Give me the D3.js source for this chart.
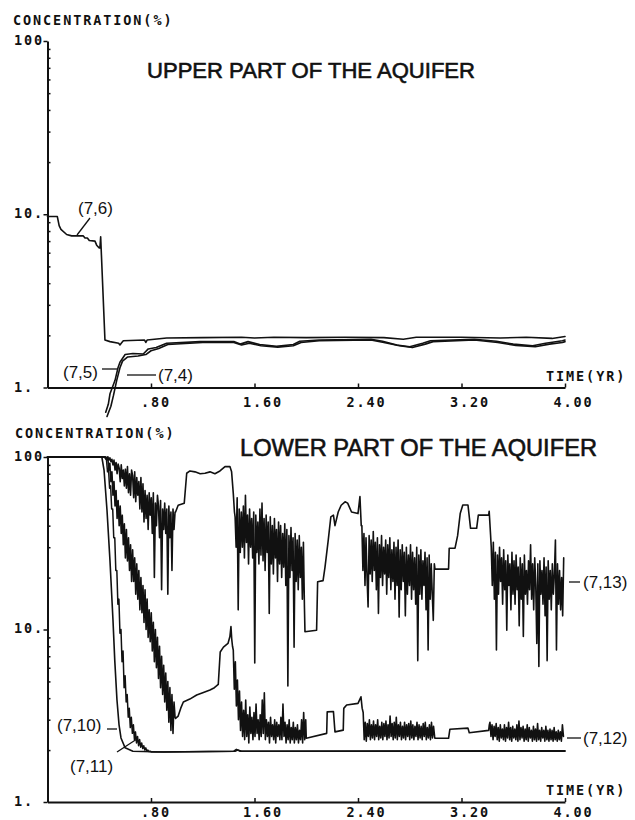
<!DOCTYPE html>
<html>
<head>
<meta charset="utf-8">
<script src="https://cdn.jsdelivr.net/npm/d3@7"></script>
<style>
  body { margin: 0; background: #fff; }
  svg { display: block; }
  .plot { font-family: "DejaVu Sans Mono", monospace; font-weight: bold; font-size: 13.5px; letter-spacing: 1.9px; fill: #111; }
  .title { font-family: "Liberation Sans", Arial, sans-serif; fill: #111; stroke: #111; stroke-width: 0.6; }
  .tag { font-family: "Liberation Sans", Arial, sans-serif; font-size: 17px; fill: #111; }
  .axis .domain { stroke: #111; stroke-width: 2; }
  .axis .tick line { stroke: #111; stroke-width: 1.5; }
  .curve { fill: none; stroke: #111; stroke-linejoin: round; stroke-linecap: round; }
</style>
</head>
<body>
<svg id="chart" width="635" height="820"></svg>
<script>
// ---- axes ----
const yearTicks = [0.8, 1.6, 2.4, 3.2, 4.0];
const yearTickLabels = [".80", "1.60", "2.40", "3.20", "4.00"];
const concTicks = [1, 10, 100];
const concTickLabels = ["1.", "10.", "100"];
const concMinorTicks = [2, 3, 4, 5, 6, 7, 8, 9, 20, 30, 40, 50, 60, 70, 80, 90];

// sampling interval (yr) of the digitised fluctuating stretches
const STEP = 0.008;

// ---- upper part of the aquifer: [time (yr), concentration (%)] ----
const upper76 = [[0,9.7],[0.076,9.7],[0.09,8.6],[0.104,8.17],[0.148,7.64],[0.187,7.5],[0.277,7.5],[0.29,7.3],[0.308,7.3],[0.323,7.06],[0.367,7.0],[0.38,6.63],[0.398,6.4],[0.405,6.4],[0.411,7.4],[0.444,1.88],[0.483,1.84],[0.55,1.8],[0.56,1.76],[0.57,1.8],[0.586,1.86],[0.75,1.88],[0.76,1.82],[0.77,1.88],[0.921,1.93],[1.2,1.94],[1.5,1.95],[1.6,1.93],[1.75,1.95],[2.0,1.94],[2.3,1.95],[2.6,1.94],[2.75,1.9],[2.85,1.95],[3.2,1.95],[3.5,1.93],[3.7,1.95],[3.9,1.92],[4.0,1.97]];
const upper75 = [[0.45,0.72],[0.47,0.8],[0.483,0.92],[0.522,1.1],[0.545,1.3],[0.56,1.4],[0.6,1.55],[0.66,1.57],[0.74,1.56],[0.779,1.67],[0.84,1.7],[0.921,1.8],[1.18,1.84],[1.44,1.84],[1.49,1.78],[1.55,1.84],[1.64,1.77],[1.77,1.73],[1.9,1.77],[1.95,1.85],[2.1,1.88],[2.5,1.9],[2.59,1.85],[2.7,1.76],[2.8,1.72],[2.9,1.8],[2.96,1.86],[3.3,1.9],[3.47,1.85],[3.6,1.78],[3.75,1.74],[3.85,1.8],[3.98,1.86],[4.0,1.88]];
const upper74 = [[0.46,0.68],[0.49,0.78],[0.51,0.9],[0.535,1.1],[0.56,1.3],[0.58,1.42],[0.62,1.5],[0.7,1.52],[0.76,1.55],[0.8,1.63],[0.86,1.68],[0.93,1.77],[1.2,1.82],[1.44,1.82],[1.5,1.76],[1.56,1.8],[1.65,1.74],[1.78,1.71],[1.9,1.74],[1.96,1.82],[2.1,1.86],[2.5,1.88],[2.6,1.82],[2.72,1.74],[2.82,1.7],[2.92,1.78],[2.98,1.84],[3.3,1.88],[3.48,1.82],[3.62,1.75],[3.77,1.72],[3.88,1.78],[3.98,1.82],[4.0,1.84]];

// ---- lower part of the aquifer ----
const lower710 = [[0,100],[0.42,100],[0.437,84],[0.46,49],[0.483,25],[0.506,11.4],[0.52,6.6],[0.537,3.9],[0.553,2.8],[0.568,2.35],[0.6,2.06],[0.66,1.97],[0.9,1.95],[1.45,1.97],[1.47,2.0],[1.5,1.97],[4.0,1.98]];

const lower711Head = [[0,100],[0.43,100]];
const lower711Drop = [100,98,96,82,84,66,68,50,50,34,34,22,22,14,15,9.5,10,6.5,7.5,4.6,5.4,3.8,4.2,3.1,3.5,2.7,3.1,2.5,2.8,2.3,2.55,2.2,2.4,2.12,2.3,2.08,2.2,2.04,2.12,2.0,2.06,1.97,2.0,1.96,1.97,1.95];
const lower711Tail = [[0.85,1.95],[1.44,1.97],[1.46,2.02],[1.49,1.97],[4.0,1.97]];

const lower712Head = [[0,100],[0.44,100]];
const lower712Noise1 = [100,96,100,84,92,72,82,60,72,52,64,44,56,40,52,36,46,31,41,26,38,25,34,22,31,19,29,19,26,16,24,15,22,13,20,12.5,18,11,17,10,15,9,13,8.5,12.5,7.5,11,6.5,10,6,9,5.2,8,4.6,7,4.2,6.2,3.8,5.6,3.4,5,2.9,4.6,2.6,4.2,2.5,3.8,3.1];
const lower712Flat1 = [[0.99,3.05],[1.01,3.15],[1.03,3.5],[1.05,3.8],[1.10,3.95],[1.153,4.17],[1.20,4.3],[1.256,4.46],[1.29,4.6],[1.32,4.8],[1.335,7.4],[1.36,7.9],[1.395,8.3],[1.41,9.1],[1.418,10.4],[1.424,8.8],[1.43,8.0]];
const lower712Noise2 = [7.6,4.5,6.5,3.6,5.1,3.0,4.4,2.6,3.8,2.4,3.4,2.3,3.9,2.4,3.2,2.2,3.55,2.5,3.1,2.3,3.3,2.4,3.7,2.5,3.0,2.3,3.2,2.4,3.9,2.5,4.3,2.3,3.0,2.4,2.9,2.2,3.1,2.4,2.8,2.3,3.0,2.2,2.9,2.4,2.8,2.3,3.1,2.3,3.7,2.4,2.9,2.2,2.8,2.3,3.0,2.2,2.7,2.3,2.9,2.2,2.7,2.3,2.8,2.2,2.6,2.3,3.0,2.2,3.3,2.3,3.0];
const lower712Flat2 = [[2.0,2.34],[2.158,2.5],[2.162,3.33],[2.21,3.35],[2.222,2.55],[2.286,2.61],[2.29,3.49],[2.312,3.65],[2.40,3.73],[2.423,4.07],[2.432,3.5]];
const lower712Noise3 = [3.3,2.3,2.9,2.25,2.85,2.4,3.0,2.3,2.8,2.35,2.95,2.3,2.8,2.4,3.0,2.3,2.75,2.35,2.9,2.3,2.85,2.4,2.95,2.3,2.8,2.35,3.15,2.4,2.85,2.3,2.9,2.35,3.1,2.3,2.8,2.4,2.9,2.3,2.75,2.35,2.9,2.3,2.8,2.4,2.85,2.3,2.95,2.35,2.8,2.3,2.75,2.4,2.9,2.3,2.8,2.35,2.75,2.3,2.85,2.4,2.9,2.3,2.7,2.35,2.8,2.3,2.9,2.35,2.75,2.4];
const lower712Flat3 = [[2.995,2.34],[3.10,2.34],[3.11,2.64],[3.25,2.68],[3.26,2.52],[3.41,2.6],[3.415,2.8]];
const lower712Noise4 = [2.9,2.4,2.8,2.3,2.75,2.4,2.85,2.3,2.7,2.25,2.8,2.35,2.65,2.3,2.8,2.25,2.7,2.35,2.9,2.3,2.7,2.25,2.75,2.35,2.65,2.3,2.8,2.25,2.95,2.3,2.7,2.35,2.75,2.25,2.65,2.3,2.8,2.25,2.7,2.35,2.6,2.25,2.75,2.3,2.65,2.25,2.85,2.3,2.6,2.25,2.7,2.35,2.6,2.25,2.75,2.3,2.6,2.25,2.65,2.3,2.6,2.25,2.7,2.3,2.55,2.25,2.6,2.3,2.55,2.25,2.8,2.4];

const lower713Head = [[0,100],[0.44,100]];
const lower713Noise1 = [100,98,100,96,99,94,97,90,96,84,93,80,91,86,72,90,75,84,68,85,66,88,62,80,60,84,78,58,82,55,76,60,72,50,76,48,70,42,64,44,60,38,62,46,58,36,62,20,54,40,60,52,34,56,17,50,38,54,36,50,16,52,34,48,22,50,38,48];
const lower713Flat1 = [[0.99,48],[1.01,52.5],[1.057,54],[1.076,80.5],[1.101,83],[1.14,82],[1.18,80],[1.217,80.5],[1.256,82],[1.294,80],[1.333,83],[1.372,88],[1.41,88],[1.423,82],[1.436,61.5],[1.445,48]];
const lower713Noise2 = [45,30,58,13,50,28,48,30,52,26,60,32,46,24,50,30,44,26,48,6.4,46,28,42,24,50,27,54,25,44,22,46,28,42,12.4,45,24,40,21,44,26,38,19,42,24,40,20,36,23,41,18,38,4.7,35,20,39,22,34,7.9,36,19,33,17,35,20,30,15,32,13.5];
const lower713Flat2 = [[1.99,9.7],[2.08,9.9],[2.088,18.9],[2.13,19.2],[2.145,23],[2.17,33],[2.19,45],[2.21,46],[2.222,40],[2.247,48],[2.27,52.5],[2.30,55],[2.32,54],[2.35,48],[2.40,47],[2.415,59],[2.425,40]];
const lower713Noise3 = [40,22,36,18,34,20,13.5,35,21,33,19,37,22,32,17,34,12.4,31,20,35,18,30,21,33,16,31,20,34,17,29,19,32,15,30,18,33,11.8,29,17,31,19,28,12,30,16,27,18,31,15,28,17,26,14,30,6.6,27,16,29,15,25,18,28,13,26,7.6,27,15,24,16,11.3,24];
const lower713Flat3 = [[2.995,22.4],[3.10,22.4],[3.105,29.6],[3.15,29.6],[3.17,35],[3.19,47],[3.21,52.7],[3.25,52.7],[3.27,38.6],[3.317,38.6],[3.33,46],[3.41,46],[3.414,48.5],[3.425,35]];
const lower713Noise4 = [30,18,32,15,28,7.6,27,16,30,19,26,14,29,17,25,9.9,27,18,24,13,28,16,25,14,27,17,23,10.5,26,15,24,9.1,27,16,22,14,25,17,31,15,24,13,26,18,8.3,24,6.1,25,16,22,14,26,12,23,6.6,25,15,22,13,24,16,21,33,7.6,24,14,22,13,20,12,26];

// ---- build series ----
const sampled = (t0, values) => values.map((v, i) => [t0 + i * STEP, v]);

const upperSeries = [upper76, upper75, upper74];
const lowerSeries = [
  [].concat(lower713Head, sampled(0.45, lower713Noise1), lower713Flat1, sampled(1.45, lower713Noise2), lower713Flat2, sampled(2.43, lower713Noise3), lower713Flat3, sampled(3.43, lower713Noise4)),
  [].concat(lower712Head, sampled(0.45, lower712Noise1), lower712Flat1, sampled(1.436, lower712Noise2), lower712Flat2, sampled(2.44, lower712Noise3), lower712Flat3, sampled(3.42, lower712Noise4)),
  [].concat(lower711Head, sampled(0.44, lower711Drop), lower711Tail),
  lower710
];

// ---- drawing ----
const svg = d3.select("#chart");
const x = d3.scaleLinear().domain([0, 4]).range([47.5, 565]);
const yUpper = d3.scaleLog().domain([1, 100]).range([387.5, 41]);
const yLower = d3.scaleLog().domain([1, 100]).range([802, 457]);

function drawAxes(y, opts) {
  const bottom = y(1);
  svg.append("g").attr("class", "axis")
    .attr("transform", `translate(0,${bottom})`)
    .call(d3.axisBottom(x).tickValues(yearTicks).tickSizeInner(-4).tickSizeOuter(0).tickFormat(""));
  svg.append("g").attr("class", "axis")
    .attr("transform", `translate(${x(0)},0)`)
    .call(d3.axisLeft(y).tickValues(concTicks).tickSizeInner(4).tickSizeOuter(0).tickFormat(""));
  svg.append("g").attr("class", "axis")
    .attr("transform", `translate(${x(0)},0)`)
    .call(d3.axisRight(y).tickValues(concMinorTicks).tickSize(3).tickFormat(""))
    .call(g => g.select(".domain").remove());

  // time labels
  svg.append("g").selectAll("text").data(yearTicks).join("text")
    .attr("class", "plot")
    .attr("x", (d, i) => x(d) - 10 - (yearTickLabels[i].length > 3 ? 1.5 : 0))
    .attr("y", opts.xLabelBase)
    .text((d, i) => yearTickLabels[i]);
  // concentration labels
  svg.append("g").selectAll("text").data(concTicks).join("text")
    .attr("class", "plot")
    .attr("x", 14)
    .attr("y", d => y(d) + opts.yLabelShift)
    .text((d, i) => concTickLabels[i]);

  svg.append("text").attr("class", "plot").attr("x", opts.concX).attr("y", opts.concY).text("CONCENTRATION(%)");
  svg.append("text").attr("class", "plot").attr("x", 546).attr("y", opts.timeY).text("TIME(YR)");
}

drawAxes(yUpper, { xLabelBase: 407, yLabelShift: 4, concX: 13, concY: 25, timeY: 381 });
drawAxes(yLower, { xLabelBase: 817, yLabelShift: 3.5, concX: 15, concY: 438, timeY: 795 });

// titles
svg.append("text").attr("class", "title").attr("x", 147).attr("y", 78)
  .attr("font-size", 21.5).attr("textLength", 328).attr("lengthAdjust", "spacingAndGlyphs")
  .text("UPPER PART OF THE AQUIFER");
svg.append("text").attr("class", "title").attr("x", 240).attr("y", 456)
  .attr("font-size", 23.5).attr("textLength", 357).attr("lengthAdjust", "spacingAndGlyphs")
  .text("LOWER PART OF THE AQUIFER");

// curves
const lineUpper = d3.line().x(d => x(d[0])).y(d => yUpper(d[1]));
const lineLower = d3.line().x(d => x(d[0])).y(d => yLower(d[1]));

svg.append("g").selectAll("path").data(upperSeries).join("path")
  .attr("class", "curve").attr("stroke-width", 1.6).attr("d", lineUpper);

const lowerWidths = [1.6, 1.6, 1.5, 1.6];
svg.append("g").selectAll("path").data(lowerSeries).join("path")
  .attr("class", "curve").attr("stroke-width", (d, i) => lowerWidths[i]).attr("d", lineLower);

// curve labels with leader lines
const tags = svg.append("g");
function tag(text, tx, ty, line) {
  tags.append("text").attr("class", "tag").attr("x", tx).attr("y", ty).text(text);
  if (line) tags.append("line").attr("x1", line[0]).attr("y1", line[1]).attr("x2", line[2]).attr("y2", line[3])
    .attr("stroke", "#111").attr("stroke-width", 1.3);
}
tag("(7,6)", 78, 214, [90, 218, 77, 235]);
tag("(7,5)", 63, 378, [102, 369, 118, 369]);
tag("(7,4)", 158, 381, [127, 375, 156, 375]);
tag("(7,10)", 57, 731, [107, 729, 117, 729]);
tag("(7,11)", 70, 772, [117, 752, 137, 739]);
tag("(7,13)", 583, 588, [569, 582, 580, 582]);
tag("(7,12)", 583, 744, [567, 738, 581, 738]);
</script>
</body>
</html>
